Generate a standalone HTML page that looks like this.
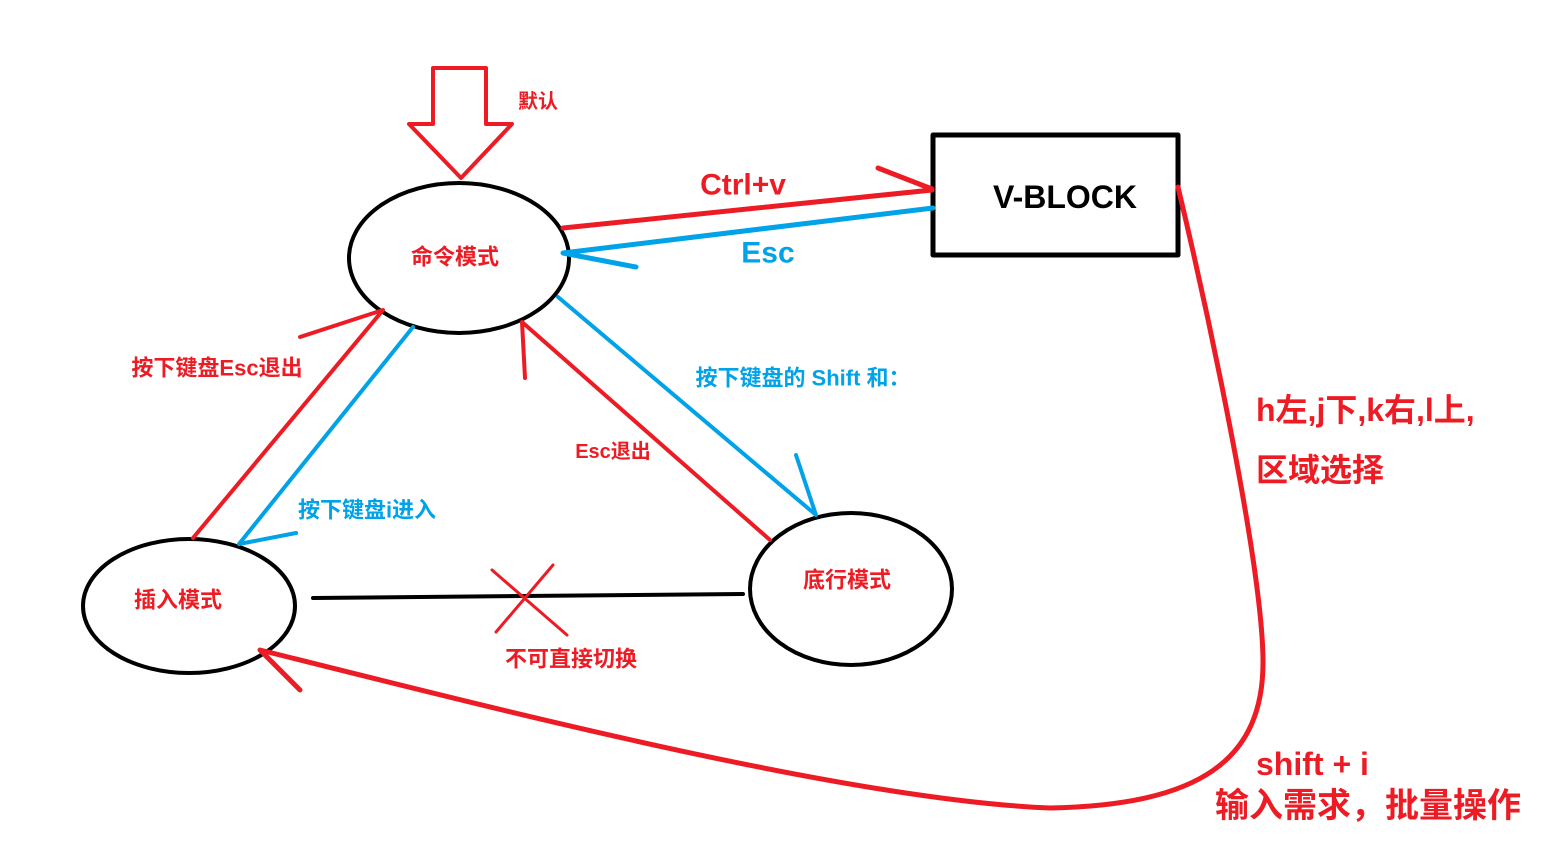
<!DOCTYPE html>
<html><head><meta charset="utf-8"><style>
html,body{margin:0;padding:0;background:#fff;}
svg{display:block}
text{font-family:"Liberation Sans","Noto Sans CJK SC",sans-serif;font-weight:bold;text-anchor:middle;dominant-baseline:central}
</style></head><body>
<svg width="1568" height="850" viewBox="0 0 1568 850" xmlns="http://www.w3.org/2000/svg">
<rect width="1568" height="850" fill="#fff"/>
<g fill="none" stroke-linecap="round" stroke-linejoin="round">
<!-- default arrow -->
<polygon points="433,68 486,68 486,124 512,124 461,178 409,124 433,124" stroke="#ed1c24" stroke-width="4"/>
<!-- ellipses -->
<ellipse cx="459" cy="258" rx="110" ry="75" stroke="#000" stroke-width="4"/>
<ellipse cx="189" cy="606" rx="106" ry="67" stroke="#000" stroke-width="4"/>
<ellipse cx="851" cy="589" rx="101" ry="76" stroke="#000" stroke-width="4"/>
<rect x="933" y="135" width="245" height="120" stroke="#000" stroke-width="5"/>
<!-- ctrl+v -->
<path d="M563,228 L932,190 M878,168 L932,189" stroke="#ed1c24" stroke-width="5"/>
<!-- esc -->
<path d="M933,208 L563,253 L636,267" stroke="#00a2e8" stroke-width="5"/>
<!-- insert->command red -->
<path d="M193,538 L383,310 L300,337" stroke="#ed1c24" stroke-width="4"/>
<!-- command->insert blue -->
<path d="M413,327 L239,544 L296,533" stroke="#00a2e8" stroke-width="4"/>
<!-- command->bottom blue -->
<path d="M558,297 L816,515 L796,455" stroke="#00a2e8" stroke-width="4"/>
<!-- bottom->command red -->
<path d="M770,540 L522,322 L525,378" stroke="#ed1c24" stroke-width="4"/>
<!-- black line and X -->
<path d="M313,598 L743,594" stroke="#000" stroke-width="4"/>
<path d="M492,570 L567,635 M553,565 L496,632" stroke="#ed1c24" stroke-width="3"/>
<!-- big curve -->
<path d="M1178,187 C1205,300 1262,560 1263,660 C1264,760 1200,805 1050,808 C850,800 500,710 260,650 L300,690" stroke="#ed1c24" stroke-width="5"/>
</g>
<text x="538" y="102" font-size="20" fill="#ed1c24">默认</text>
<text x="455" y="257" font-size="22" fill="#ed1c24">命令模式</text>
<text x="743" y="185" font-size="30" fill="#ed1c24">Ctrl+v</text>
<text x="768" y="253" font-size="30" fill="#00a2e8">Esc</text>
<text x="1065" y="197" font-size="32" fill="#000">V-BLOCK</text>
<text x="217" y="368" font-size="22" fill="#ed1c24">按下键盘Esc退出</text>
<text x="367" y="510" font-size="22" fill="#00a2e8">按下键盘i进入</text>
<text x="803" y="378" font-size="22" fill="#00a2e8">按下键盘的 Shift 和：</text>
<text x="613" y="452" font-size="20" fill="#ed1c24">Esc退出</text>
<text x="178" y="600" font-size="22" fill="#ed1c24">插入模式</text>
<text x="847" y="580" font-size="22" fill="#ed1c24">底行模式</text>
<text x="571" y="659" font-size="22" fill="#ed1c24">不可直接切换</text>
<text x="1256" y="410" font-size="32" fill="#ed1c24" style="text-anchor:start">h左,j下,k右,l上,</text>
<text x="1256" y="470" font-size="32" fill="#ed1c24" style="text-anchor:start">区域选择</text>
<text x="1256" y="764" font-size="32" fill="#ed1c24" style="text-anchor:start">shift + i</text>
<text x="1215" y="806" font-size="34" fill="#ed1c24" style="text-anchor:start">输入需求，批量操作</text>
</svg>
</body></html>
